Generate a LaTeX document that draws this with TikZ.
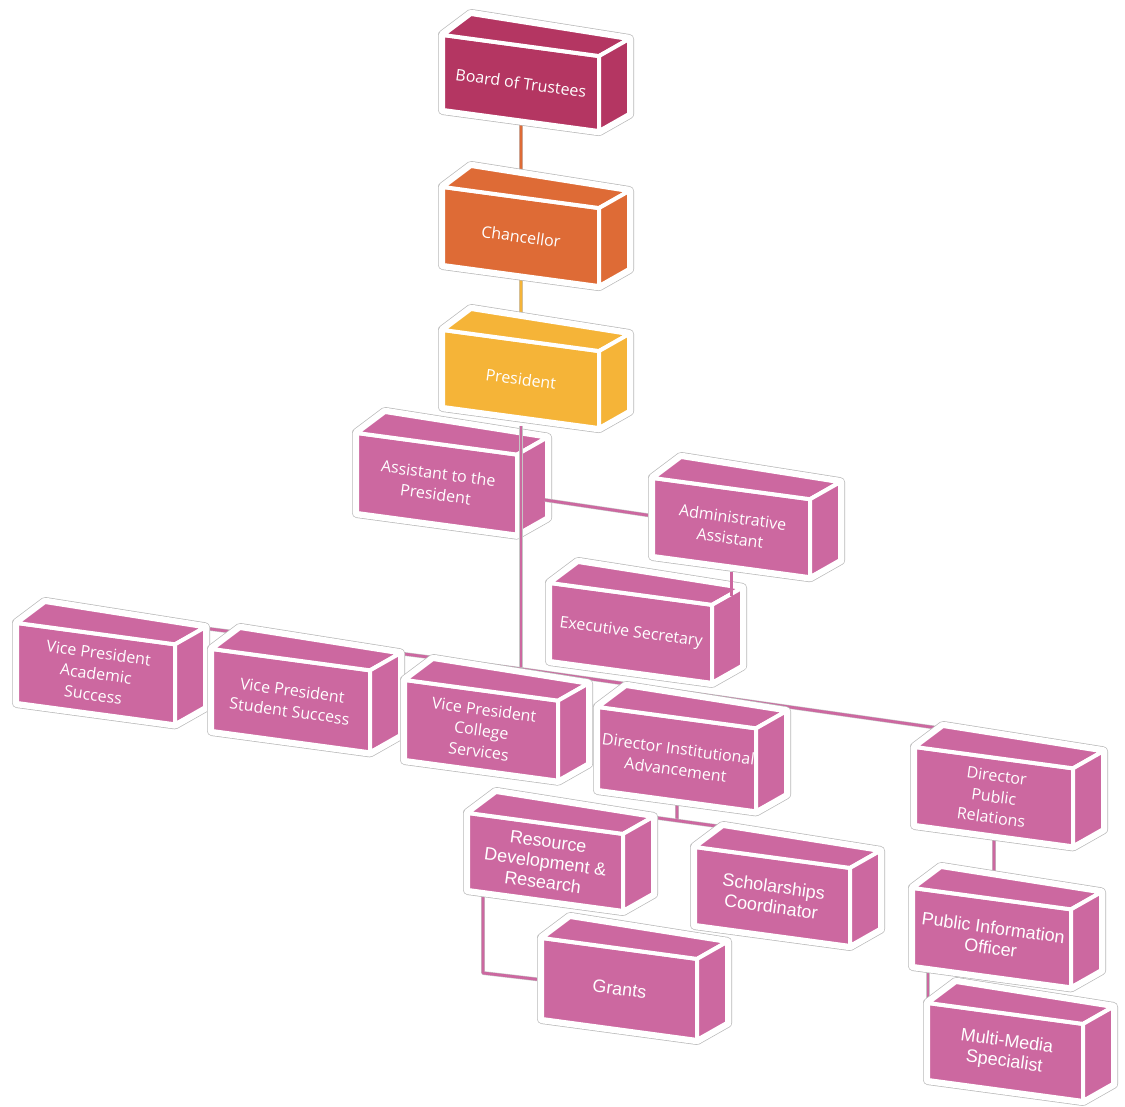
\documentclass[tikz,border=0pt]{standalone}
\usepackage{fontspec}
\newfontfamily\hum{Open Sans}
\newfontfamily\ari{Liberation Sans}
\usetikzlibrary{calc}
\definecolor{pinkC}{RGB}{204,104,160}
\definecolor{boardC}{RGB}{180,54,98}
\definecolor{chancC}{RGB}{222,107,54}
\definecolor{presC}{RGB}{245,180,56}
\pgfdeclarelayer{bg}
\pgfdeclarelayer{l0}
\pgfdeclarelayer{l1}
\pgfdeclarelayer{l2}
\pgfdeclarelayer{l4}
\pgfsetlayers{bg,l0,l1,l2,main,l4}
\tikzset{
  haloA/.style={draw=gray!55, fill=white, line width=10pt, line join=round},
  haloB/.style={draw=white, line width=8.6pt, line join=round},
  face/.style={fill=#1, draw=white, line width=4pt, line join=round},
  lbl/.style={text=white, rotate=-7.7, align=center, inner sep=0pt, font=\hum\fontsize{16}{21}\selectfont},
  albl/.style={text=white, rotate=-7.7, align=center, inner sep=0pt, font=\ari\fontsize{18}{20.5}\selectfont},
  conn/.style={draw=gray!45, line width=0.5pt, double=#1, double distance=2.8pt, line join=round}
}
% #1 name, #2 xl, #3 yt, #4 w, #5 h, #6 colour, #7 label style, #8 text
\newcommand{\cuboid}[8]{%
  \coordinate (#1-ftl) at (#2,#3);
  \coordinate (#1-ftr) at ({#2+#4},{#3+0.135*#4});
  \coordinate (#1-fbl) at (#2,{#3+#5});
  \coordinate (#1-fbr) at ({#2+#4},{#3+0.135*#4+#5});
  \coordinate (#1-btl) at ({#2+28},{#3-21});
  \coordinate (#1-btr) at ({#2+#4+30},{#3+0.135*#4-17});
  \coordinate (#1-bbr) at ({#2+#4+30},{#3+0.135*#4+#5-17});
  \coordinate (#1-bot) at ({#2+#4/2},{#3+0.135*#4/2+#5});
  \path[haloA] (#1-fbl)--(#1-ftl)--(#1-btl)--(#1-btr)--(#1-bbr)--(#1-fbr)--cycle;
  \path[haloB] (#1-fbl)--(#1-ftl)--(#1-btl)--(#1-btr)--(#1-bbr)--(#1-fbr)--cycle;
  \path[face=#6] (#1-ftl)--(#1-ftr)--(#1-fbr)--(#1-fbl)--cycle;
  \path[face=#6] (#1-ftl)--(#1-btl)--(#1-btr)--(#1-ftr)--cycle;
  \path[face=#6] (#1-ftr)--(#1-btr)--(#1-bbr)--(#1-fbr)--cycle;
  \node[#7] (#1) at ({#2+#4/2},{#3+0.135*#4/2+#5/2}) {#8};
}
\begin{document}
\begin{tikzpicture}[x=1pt,y=-1pt]
\begin{pgfonlayer}{bg}
\fill[white] (0,0) rectangle (1125,1107);
\end{pgfonlayer}
\useasboundingbox (0,0) rectangle (1125,1107);

\begin{pgfonlayer}{l1}
\cuboid{board}{443}{35}{156}{75}{boardC}{lbl}{Board of Trustees}
\cuboid{chanc}{443}{187}{156}{78}{chancC}{lbl}{Chancellor}
\cuboid{pres}{443}{330}{156}{77}{presC}{lbl}{President}
\cuboid{asst}{357}{433}{160}{80}{pinkC}{lbl}{Assistant to the\\President}
\end{pgfonlayer}

\cuboid{admin}{653}{478}{157}{78}{pinkC}{lbl}{Administrative\\Assistant}
\cuboid{exec}{550}{583}{162}{78}{pinkC}{lbl}{Executive Secretary}
\cuboid{vpa}{17}{623}{158}{80}{pinkC}{lbl}{Vice President\\Academic\\Success}
\cuboid{vps}{212}{649}{158}{82}{pinkC}{lbl}{Vice President\\Student Success}
\cuboid{vpc}{405}{680}{153}{80}{pinkC}{lbl}{Vice President\\College\\Services}
\cuboid{dia}{598}{707}{158}{83}{pinkC}{lbl}{Director Institutional\\Advancement}
\cuboid{dpr}{915}{747}{158}{78}{pinkC}{lbl}{Director\\Public\\Relations}
\cuboid{rdr}{468}{813}{155}{77}{pinkC}{albl}{Resource\\Development \&\\Research}
\cuboid{sch}{695}{847}{155}{78}{pinkC}{albl}{Scholarships\\Coordinator}
\cuboid{grants}{542}{938}{155}{81}{pinkC}{albl}{Grants}
\cuboid{pio}{913}{888}{158}{78}{pinkC}{albl}{Public Information\\Officer}
\cuboid{mm}{928}{1003}{155}{77}{pinkC}{albl}{Multi-Media\\Specialist}

\coordinate (jtop) at (521,426);
\coordinate (jbus) at (521,669);
\coordinate (busL) at (195,627);
\coordinate (busR) at (945,729);
\coordinate (jadm) at (545,500);
\coordinate (jdia) at (677,820);
\coordinate (jrl) at (600,810);
\coordinate (jrr) at (745,830);
\coordinate (jg1) at (483,880);
\coordinate (jg2) at (483,973);
\coordinate (jm1) at (928,950);
\coordinate (jm2) at (928,1010);
\coordinate (jes1) at (731.5,572);
\coordinate (jes2) at (731.5,596);

\begin{pgfonlayer}{l0}
\draw[conn=chancC] (board) -- (chanc);
\draw[conn=presC] (chanc) -- (pres);
\end{pgfonlayer}

\begin{pgfonlayer}{l2}
\draw[conn=pinkC] (jtop) -- (jbus);
\draw[conn=pinkC] (busL) -- (jbus) -- (busR);
\draw[conn=pinkC] (jadm) -- (admin);
\draw[conn=pinkC] (dia) -- (dia |- jdia);
\draw[conn=pinkC] (jrl) -- (jrr);
\draw[conn=pinkC] (jg1) -- (jg2) -- (grants);
\draw[conn=pinkC] (dpr) -- (dpr |- pio);
\draw[conn=pinkC] (jm1) -- (jm2);
\end{pgfonlayer}

\begin{pgfonlayer}{l4}
\draw[conn=pinkC] (jes1) -- (jes2);
\end{pgfonlayer}
\end{tikzpicture}
\end{document}
